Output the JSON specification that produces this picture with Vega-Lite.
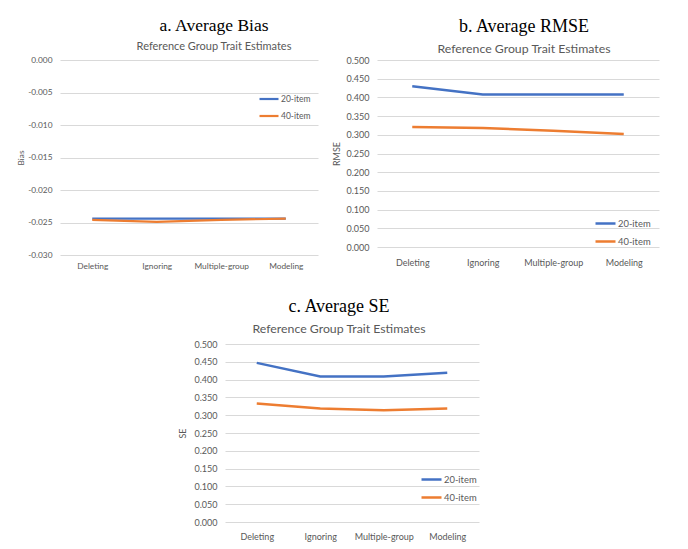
{
  "$schema": "https://vega.github.io/schema/vega-lite/v6.json",
  "background": "white",
  "padding": {"left": 16, "top": 16, "right": 5, "bottom": 3},
  "datasets": {
    "bias": [
      {"method": "Deleting", "series": "20-item", "value": -0.0244},
      {"method": "Ignoring", "series": "20-item", "value": -0.0244},
      {"method": "Multiple-group", "series": "20-item", "value": -0.0244},
      {"method": "Modeling", "series": "20-item", "value": -0.0244},
      {"method": "Deleting", "series": "40-item", "value": -0.0246},
      {"method": "Ignoring", "series": "40-item", "value": -0.0249},
      {"method": "Multiple-group", "series": "40-item", "value": -0.0246},
      {"method": "Modeling", "series": "40-item", "value": -0.0244}
    ],
    "rmse": [
      {"method": "Deleting", "series": "20-item", "value": 0.430},
      {"method": "Ignoring", "series": "20-item", "value": 0.408},
      {"method": "Multiple-group", "series": "20-item", "value": 0.408},
      {"method": "Modeling", "series": "20-item", "value": 0.408},
      {"method": "Deleting", "series": "40-item", "value": 0.321},
      {"method": "Ignoring", "series": "40-item", "value": 0.318},
      {"method": "Multiple-group", "series": "40-item", "value": 0.311},
      {"method": "Modeling", "series": "40-item", "value": 0.302}
    ],
    "se": [
      {"method": "Deleting", "series": "20-item", "value": 0.447},
      {"method": "Ignoring", "series": "20-item", "value": 0.409},
      {"method": "Multiple-group", "series": "20-item", "value": 0.409},
      {"method": "Modeling", "series": "20-item", "value": 0.419},
      {"method": "Deleting", "series": "40-item", "value": 0.333},
      {"method": "Ignoring", "series": "40-item", "value": 0.319},
      {"method": "Multiple-group", "series": "40-item", "value": 0.314},
      {"method": "Modeling", "series": "40-item", "value": 0.319}
    ]
  },
  "config": {
    "view": {"stroke": null},
    "font": "Lato",
    "axis": {
      "labelColor": "#595959", "titleColor": "#595959",
      "labelFont": "Lato", "titleFont": "Lato", "titleFontWeight": "normal",
      "domain": false, "ticks": false, "gridColor": "#d9d9d9", "gridWidth": 1,
      "labelFontSize": 9, "titleFontSize": 9, "labelPadding": 8, "titlePadding": 4
    },
    "title": {
      "font": "Liberation Serif", "fontSize": 18, "fontWeight": "normal", "color": "#000000",
      "subtitleFont": "Lato", "subtitleColor": "#595959", "subtitleFontSize": 12.3,
      "subtitlePadding": 7, "anchor": "middle", "offset": 3
    },
    "legend": {
      "title": null, "orient": "none", "symbolType": "stroke", "symbolSize": 400,
      "symbolStrokeWidth": 2.5, "labelFont": "Lato", "labelFontSize": 9.4,
      "labelColor": "#595959", "labelOffset": 1, "padding": 0, "rowPadding": 1
    }
  },
  "spacing": 27,
  "center": true,
  "resolve": {"scale": {"color": "independent"}, "legend": {"color": "independent"}},
  "vconcat": [
    {
      "spacing": 14,
      "resolve": {"scale": {"color": "independent"}, "legend": {"color": "independent"}},
      "hconcat": [
        {
          "width": 258, "height": 195,
          "title": {"text": "a. Average Bias", "subtitle": "Reference Group Trait Estimates", "dx": 25, "fontSize": 17.5, "subtitleFontSize": 11},
          "data": {"name": "bias"},
          "mark": {"type": "line", "strokeWidth": 2.2},
          "encoding": {
            "x": {"field": "method", "type": "nominal", "sort": ["Deleting", "Ignoring", "Multiple-group", "Modeling"],
                  "scale": {"type": "point", "padding": 0.5},
                  "axis": {"title": null, "labelAngle": 0, "labelFontSize": 8.3, "grid": false, "labelPadding": 6}},
            "y": {"field": "value", "type": "quantitative",
                  "scale": {"domain": [-0.03, 0], "nice": false, "zero": false},
                  "axis": {"title": "Bias", "values": [-0.03, -0.025, -0.02, -0.015, -0.01, -0.005, 0],
                           "labelExpr": "replace(format(datum.value, '.3f'), '\u2212', '-')",
                           "labelFontSize": 8.3, "titleFontSize": 8.3, "titlePadding": 2}},
            "color": {"field": "series", "type": "nominal",
                      "scale": {"domain": ["20-item", "40-item"], "range": ["#4472C4", "#ED7D31"]},
                      "legend": {"legendX": 198, "legendY": 28, "symbolSize": 361, "labelFontSize": 8.5, "symbolStrokeWidth": 2.2}}
          }
        },
        {
          "width": 282, "height": 187,
          "title": {"text": "b. Average RMSE", "subtitle": "Reference Group Trait Estimates", "dx": 6, "offset": 1},
          "data": {"name": "rmse"},
          "mark": {"type": "line", "strokeWidth": 2.5},
          "encoding": {
            "x": {"field": "method", "type": "nominal", "sort": ["Deleting", "Ignoring", "Multiple-group", "Modeling"],
                  "scale": {"type": "point", "padding": 0.5},
                  "axis": {"title": null, "labelAngle": 0, "grid": false, "labelPadding": 11}},
            "y": {"field": "value", "type": "quantitative",
                  "scale": {"domain": [0, 0.5], "nice": false},
                  "axis": {"title": "RMSE", "values": [0, 0.05, 0.1, 0.15, 0.2, 0.25, 0.3, 0.35, 0.4, 0.45, 0.5], "format": ".3f"}},
            "color": {"field": "series", "type": "nominal",
                      "scale": {"domain": ["20-item", "40-item"], "range": ["#4472C4", "#ED7D31"]},
                      "legend": {"legendX": 217, "legendY": 152}}
          }
        }
      ]
    },
    {
      "width": 254, "height": 178,
      "title": {"text": "c. Average SE", "subtitle": "Reference Group Trait Estimates", "dx": -13, "offset": 5},
      "data": {"name": "se"},
      "mark": {"type": "line", "strokeWidth": 2.5},
      "encoding": {
        "x": {"field": "method", "type": "nominal", "sort": ["Deleting", "Ignoring", "Multiple-group", "Modeling"],
              "scale": {"type": "point", "padding": 0.5},
              "axis": {"title": null, "labelAngle": 0, "grid": false, "labelPadding": 10}},
        "y": {"field": "value", "type": "quantitative",
              "scale": {"domain": [0, 0.5], "nice": false},
              "axis": {"title": "SE", "values": [0, 0.05, 0.1, 0.15, 0.2, 0.25, 0.3, 0.35, 0.4, 0.45, 0.5], "format": ".3f", "titlePadding": 6}},
        "color": {"field": "series", "type": "nominal",
                  "scale": {"domain": ["20-item", "40-item"], "range": ["#4472C4", "#ED7D31"]},
                  "legend": {"legendX": 178, "legendY": 107, "padding": 17}}
      }
    }
  ]
}
